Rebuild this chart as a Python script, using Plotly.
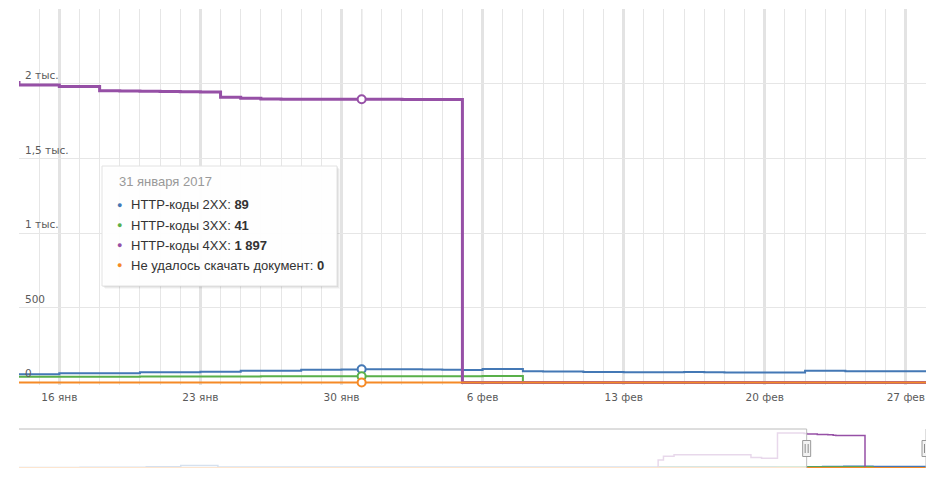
import plotly.graph_objects as go
import pandas as pd

# ---------------- data ----------------
dates = pd.date_range("2017-01-13", "2017-02-28", freq="D").strftime("%Y-%m-%d").tolist()

http_2xx = [55, 55, 55, 61, 61, 61, 61, 68, 68, 68, 72, 72, 79, 79, 79, 85, 86, 87, 89,
            89, 88, 87, 86, 84, 90, 90, 75, 74, 73, 70, 70, 69, 69, 68, 70, 69, 66, 66, 66, 66,
            79, 79, 75, 75, 75, 75, 75]
http_3xx = [38, 38, 38, 39, 39, 39, 39, 40, 40, 40, 40, 40, 40, 41, 41, 41, 41, 41, 41,
            41, 42, 42, 42, 42, 43, 43] + [0] * 21
http_4xx = [2010, 1993, 1993, 1982, 1982, 1955, 1953, 1951, 1950, 1948, 1946, 1911, 1904,
            1899, 1898, 1898, 1897, 1897, 1897,
            1897, 1896, 1896, 1895] + [0] * 24
failed = [0] * 47

series_names = ["HTTP-коды 2XX", "HTTP-коды 3XX", "HTTP-коды 4XX", "Не удалось скачать документ"]
series_values = [http_2xx, http_3xx, http_4xx, failed]
series_colors = ["#4478b5", "#59b04a", "#9650a6", "#f58a26"]

# navigator history (before the selected window)
hist_dates = ["2016-03-23", "2016-04-15", "2016-05-10", "2016-05-23", "2016-06-06", "2016-07-01",
              "2016-08-15", "2016-10-01", "2016-11-19", "2016-11-21", "2016-11-25", "2016-12-20",
              "2016-12-24", "2016-12-28", "2017-01-03", "2017-01-08"]
hist_2xx = [20, 30, 60, 130, 50, 40, 45, 50, 60, 60, 60, 60, 60, 60, 55, 55]
hist_3xx = [0, 0, 0, 0, 0, 0, 0, 0, 30, 30, 30, 35, 35, 35, 40, 40]
hist_4xx = [0, 0, 0, 0, 0, 0, 0, 0, 450, 680, 760, 760, 600, 560, 2050, 2040]
hist_failed = [0] * 16
hist_values = [hist_2xx, hist_3xx, hist_4xx, hist_failed]

x_ticks = ["2017-01-16", "2017-01-23", "2017-01-30", "2017-02-06", "2017-02-13", "2017-02-20", "2017-02-27"]
x_ticktext = ["16 янв", "23 янв", "30 янв", "6 фев", "13 фев", "20 фев", "27 фев"]
y_ticks = [0, 500, 1000, 1500, 2000, 2500]
y_ticktext = ["0", "500", "1 тыс.", "1,5 тыс.", "2 тыс.", ""]

view_start, view_end = "2017-01-14", "2017-02-28"
nav_start = "2016-03-23"
hover_date = "2017-01-31"
hover_title = "31 января 2017"

# ---------------- layout geometry ----------------
W, H = 939, 485
ML, MR, MT, MB = 19, 13, 9, 17
PW, PH = W - ML - MR, H - MT - MB


def px_x(px):
    return (px - ML) / PW


def px_y(py):
    return (H - MB - py) / PH


main_dom = [px_y(385), 1.0]
nav_dom = [0.0, px_y(429)]

fig = go.Figure()

# main series
for name, vals, col in zip(series_names, series_values, series_colors):
    fig.add_trace(go.Scatter(x=dates, y=vals, mode="lines", line=dict(color=col, width=3 if "4XX" in name else 2, shape="hv"),
                             name=name, xaxis="x", yaxis="y", showlegend=False, hoverinfo="skip"))

# hover markers
hi = dates.index(hover_date)
for vals, col in zip(series_values, series_colors):
    fig.add_trace(go.Scatter(x=[dates[hi]], y=[vals[hi]], mode="markers",
                             marker=dict(size=8, color="white", line=dict(color=col, width=2)),
                             xaxis="x", yaxis="y", showlegend=False, hoverinfo="skip", cliponaxis=False))

# navigator series
for name, hv, vals, col in zip(series_names, hist_values, series_values, series_colors):
    fig.add_trace(go.Scatter(x=hist_dates + dates, y=hv + vals, mode="lines",
                             line=dict(color=col, width=1.5, shape="hv"),
                             xaxis="x2", yaxis="y2", showlegend=False, hoverinfo="skip"))

shapes = []
# crosshair
shapes.append(dict(type="line", xref="x", yref="paper", x0=hover_date, x1=hover_date,
                   y0=px_y(383), y1=1.0, line=dict(color="#8a8a8a", width=1), layer="below"))
# navigator mask over unselected part
shapes.append(dict(type="rect", xref="x2", yref="paper", x0=nav_start, x1=view_start,
                   y0=nav_dom[0], y1=nav_dom[1], fillcolor="rgba(255,255,255,0.78)", line=dict(width=0)))
# navigator outline
oc = dict(color="#bcbcbc", width=1)
shapes.append(dict(type="line", xref="x2", yref="paper", x0=nav_start, x1=view_start, y0=nav_dom[1], y1=nav_dom[1], line=oc))
shapes.append(dict(type="line", xref="x2", yref="paper", x0=view_start, x1=view_start, y0=nav_dom[0], y1=nav_dom[1], line=oc))
shapes.append(dict(type="line", xref="x2", yref="paper", x0=view_end, x1=view_end, y0=nav_dom[0], y1=nav_dom[1], line=oc))
# handles
hy = (nav_dom[0] + nav_dom[1]) / 2
for hx in (view_start, view_end):
    shapes.append(dict(type="rect", xref="x2", yref="paper", xsizemode="pixel", ysizemode="pixel",
                       xanchor=hx, yanchor=hy, x0=-4, x1=4, y0=-8, y1=8,
                       fillcolor="#f2f2f2", line=dict(color="#9a9a9a", width=1)))
    for dx in (-1.5, 1.5):
        shapes.append(dict(type="line", xref="x2", yref="paper", xsizemode="pixel", ysizemode="pixel",
                           xanchor=hx, yanchor=hy, x0=dx, x1=dx, y0=-4.5, y1=4.5,
                           line=dict(color="#8a8a8a", width=1)))

# tooltip box with soft shadow
bx0, bx1, by0, by1 = 102, 337, 166, 286
for off, a in ((3, 0.03), (2, 0.05), (1, 0.07)):
    shapes.append(dict(type="rect", xref="paper", yref="paper",
                       x0=px_x(bx0 + off), x1=px_x(bx1 + off), y0=px_y(by1 + off), y1=px_y(by0 + off),
                       fillcolor=f"rgba(0,0,0,{a})", line=dict(width=0)))
shapes.append(dict(type="rect", xref="paper", yref="paper",
                   x0=px_x(bx0), x1=px_x(bx1), y0=px_y(by1), y1=px_y(by0),
                   fillcolor="rgba(255,255,255,0.97)", line=dict(color="#e2e2e2", width=1)))

annotations = []
# y-axis labels drawn inside the plot, just above their grid lines
for tv, tt in zip(y_ticks, y_ticktext):
    if tt:
        annotations.append(dict(xref="paper", yref="y", x=px_x(23), y=tv, xanchor="left", yanchor="bottom",
                                yshift=1, text=tt, showarrow=False,
                                font=dict(family="DejaVu Sans", size=10.5, color="#5a5a5a")))

tfont = "Liberation Sans, Arial, sans-serif"
annotations.append(dict(xref="paper", yref="paper", x=px_x(117), y=px_y(182), xanchor="left", yanchor="middle",
                        text=hover_title, showarrow=False, font=dict(family=tfont, size=13, color="#999999")))
for i, (name, vals, col) in enumerate(zip(series_names, series_values, series_colors)):
    yy = px_y(205 + 20 * i)
    v = f"{vals[hi]:,}".replace(",", " ")
    annotations.append(dict(xref="paper", yref="paper", x=px_x(119.5), y=yy, xanchor="center", yanchor="middle",
                            text="●", showarrow=False, font=dict(family=tfont, size=9, color=col)))
    annotations.append(dict(xref="paper", yref="paper", x=px_x(129), y=yy, xanchor="left", yanchor="middle",
                            text=f"{name}: <b>{v}</b>", showarrow=False,
                            font=dict(family=tfont, size=13, color="#333333")))

fig.update_layout(
    width=W, height=H, margin=dict(l=ML, r=MR, t=MT, b=MB, autoexpand=False),
    paper_bgcolor="white", plot_bgcolor="white",
    font=dict(family="DejaVu Sans", size=10.5, color="#5a5a5a"),
    showlegend=False,
    xaxis=dict(domain=[0, 1], range=[view_start, view_end], type="date",
               tickmode="array", tickvals=x_ticks, ticktext=x_ticktext,
               showgrid=True, gridcolor="#e3e3e3", gridwidth=3, zeroline=False, showline=False,
               ticks="", ticklabelstandoff=4, automargin=False,
               minor=dict(tickmode="linear", tick0="2017-01-14", dtick=86400000, showgrid=True,
                          gridcolor="#e6e6e6", gridwidth=1, ticks=""),
               anchor="y", fixedrange=True),
    yaxis=dict(domain=main_dom, range=[-17, 2502], tickmode="array", tickvals=y_ticks,
               showgrid=True, gridcolor="#e6e6e6", gridwidth=1, zeroline=False, showline=False,
               ticks="", showticklabels=False, automargin=False,
               anchor="x", fixedrange=True),
    xaxis2=dict(domain=[0, 1], range=[nav_start, view_end], type="date", showgrid=False, showticklabels=False,
                zeroline=False, showline=False, ticks="", anchor="y2", automargin=False, fixedrange=True),
    yaxis2=dict(domain=nav_dom, range=[-15, 2280], showgrid=False, showticklabels=False,
                zeroline=False, showline=False, ticks="", anchor="x2", automargin=False, fixedrange=True),
    shapes=shapes, annotations=annotations,
)

fig.write_html("out.html", config={"displayModeBar": False},
               post_script="document.body.style.margin='0';document.body.style.padding='0';")
